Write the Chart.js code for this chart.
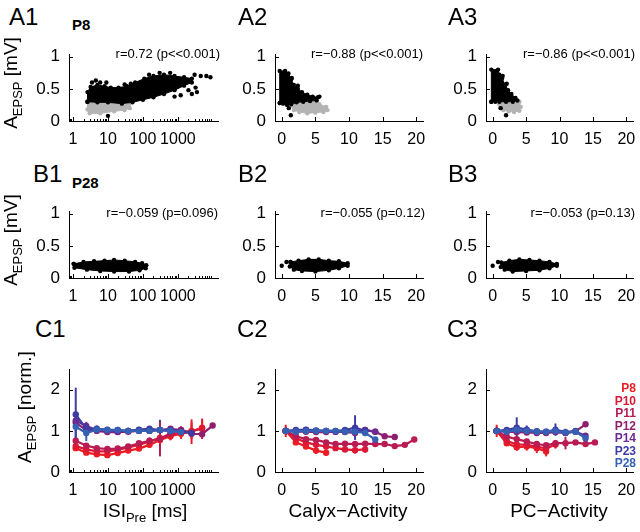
<!DOCTYPE html>
<html>
<head>
<meta charset="utf-8">
<script src="https://cdn.jsdelivr.net/npm/chart.js@4.4.1/dist/chart.umd.min.js"></script>
<style>
body { margin: 0; background: #fff; }
#fig { position: relative; width: 640px; height: 532px; overflow: hidden; font-family: "Liberation Sans", Arial, sans-serif; color: #000; }
#fig canvas { position: absolute; }
.t { position: absolute; white-space: nowrap; }
</style>
</head>
<body>
<div id="fig"></div>
<script>
// ---- data ----
const ages = ['P8', 'P10', 'P11', 'P12', 'P14', 'P23', 'P28'];
const ageColors = ['#ec1c24', '#dc1836', '#b81c52', '#8e1e6e', '#6a2a94', '#3e3ca4', '#3560b4'];

const logTicks = [1, 10, 100, 1000];
const linTicks = [0, 5, 10, 15, 20];

// A row: P8 scatter clouds (outline of dense area + loose points), [x, y]
const a1Black = [[2.6,0.3],[2.6,0.45],[3.2,0.53],[5,0.56],[8,0.54],[12,0.52],[20,0.52],[35,0.54],[60,0.6],[110,0.66],[200,0.7],[400,0.72],[800,0.7],[1500,0.68],[2500,0.66],[2500,0.6],[1500,0.55],[800,0.48],[400,0.42],[200,0.37],[100,0.33],[50,0.29],[25,0.27],[10,0.29],[5,0.29],[2.6,0.3]];
const a1Gray = [[2.6,0.3],[6,0.29],[12,0.28],[25,0.27],[40,0.25],[42,0.2],[30,0.17],[15,0.15],[6,0.12],[3,0.12],[2.6,0.18],[2.6,0.3]];
const a1Loose = [[3.5,0.6],[4.5,0.63],[6,0.6],[9,0.6],[30,0.57],[45,0.58],[150,0.72],[300,0.75],[600,0.75],[3000,0.72],[4500,0.7],[6500,0.7],[8500,0.68],[3200,0.52],[2000,0.48],[1200,0.4],[800,0.38],[3500,0.45],[2500,0.42],[10,0.08],[70,0.5]];

const a2Black = [[-0.3,0.28],[-0.3,0.78],[0.5,0.78],[1.0,0.74],[1.4,0.65],[1.8,0.56],[2.4,0.5],[3,0.45],[3.8,0.41],[4.6,0.38],[5.4,0.37],[5.2,0.32],[4.2,0.31],[3.2,0.3],[2.2,0.29],[1.4,0.26],[0.8,0.25],[0.2,0.27],[-0.3,0.28]];
const a2Gray = [[1.6,0.3],[2.6,0.31],[3.6,0.31],[4.6,0.3],[5.6,0.26],[6.6,0.22],[6.8,0.17],[6.2,0.14],[5.0,0.13],[3.8,0.12],[2.6,0.14],[1.8,0.17],[1.5,0.24],[1.6,0.3]];
const a2Loose = [[1.05,0.2],[1.35,0.09],[2.4,0.55],[5.6,0.38],[1.5,0.67]];

const a3Black = [[-0.2,0.3],[-0.2,0.8],[0.8,0.8],[1.0,0.72],[1.4,0.66],[1.9,0.56],[2.3,0.48],[2.8,0.42],[3.4,0.36],[3.7,0.32],[3.0,0.3],[2.0,0.3],[1.0,0.3],[0.4,0.3],[-0.2,0.3]];
const a3Gray = [[1.0,0.31],[2.2,0.31],[3.3,0.33],[4.0,0.3],[4.2,0.22],[4.0,0.16],[3.2,0.14],[2.4,0.15],[1.6,0.17],[1.1,0.21],[1.0,0.26],[1.0,0.31]];
const a3Loose = [[1.2,0.2],[2.0,0.09],[2.1,0.58],[1.5,0.7]];

// B row: P28 clouds
const b1Black = [[1.05,0.22],[2,0.25],[4,0.26],[8,0.27],[15,0.28],[30,0.27],[60,0.25],[95,0.23],[125,0.2],[120,0.15],[80,0.12],[40,0.1],[15,0.1],[6,0.11],[2.5,0.13],[1.1,0.16],[1.05,0.22]];
const b2Black = [[1.3,0.25],[2.5,0.27],[4,0.29],[5.5,0.29],[7,0.27],[8.5,0.26],[9.8,0.23],[9.8,0.19],[8.5,0.15],[7,0.12],[5,0.1],[3,0.11],[1.8,0.13],[1.2,0.18],[1.3,0.25]];
const b2Loose = [[0,0.19],[0.7,0.25]];
const b3Black = [[1.3,0.24],[2.5,0.27],[4,0.29],[5.5,0.28],[7,0.27],[8.5,0.25],[9.6,0.22],[9.6,0.19],[8.5,0.15],[7,0.12],[5,0.11],[3,0.1],[1.8,0.13],[1.2,0.17],[1.3,0.24]];
const b3Loose = [[0,0.19],[0.8,0.25]];

// C row: normalised means and errors per age
const isiBins = [1.2, 2.4, 4.8, 9.6, 19, 38, 77, 154, 307, 614, 1229, 2458, 4915, 9830];
const activityBins = [0.6, 2.1, 3.6, 5.1, 6.6, 8.0, 9.4, 10.9, 12.4, 13.9, 15.3, 16.8, 18.3, 19.7];

const c1Means = [
  [0.58, 0.47, 0.43, 0.41, 0.46, 0.52, 0.57, 0.66, 0.78, 0.87, 0.93, 0.98, 1.08],
  [0.63, 0.55, 0.5, 0.5, 0.54, 0.6, 0.66, 0.74, 0.83, 0.9, 0.96, 1.0, 1.05],
  [0.76, 0.64, 0.58, 0.56, 0.57, 0.62, 0.7, 0.76, 0.8, 0.95, 1.02, 0.95],
  [1.2, 1.02, 1.0, 0.97, 0.97, 0.98, 1.0, 1.0, 1.02, 1.05, 1.02, 0.93, 0.92, 1.13],
  [1.25, 1.12, 1.02, 1.0, 0.98, 1.0, 1.02, 1.03, 1.02, 1.0, 0.98],
  [1.4, 1.05, 1.05, 1.03, 1.02, 1.0, 1.03, 1.05, 1.02, 1.03, 0.98, 0.95],
  [1.1, 0.95, 1.03, 1.02, 1.02, 1.0, 1.0, 1.0, 1.02, 1.0, 0.97]
];
const c1Errs = [
  [0.04, 0.04, 0.05, 0.04, 0.04, 0.04, 0.05, 0.06, 0.1, 0.1, 0.12, 0.3, 0.18],
  [0.04, 0.04, 0.04, 0.04, 0.04, 0.05, 0.06, 0.08, 0.1, 0.12, 0.15, 0.2, 0.25],
  [0.04, 0.04, 0.04, 0.04, 0.04, 0.05, 0.06, 0.08, 0.42, 0.1, 0.08, 0.1],
  [0.1, 0.06, 0.05, 0.04, 0.04, 0.04, 0.05, 0.05, 0.06, 0.07, 0.08, 0.08, 0.06, 0.03],
  [0.15, 0.1, 0.06, 0.05, 0.05, 0.05, 0.06, 0.06, 0.08, 0.08, 0.1],
  [0.65, 0.1, 0.08, 0.06, 0.05, 0.05, 0.06, 0.07, 0.25, 0.08, 0.1, 0.08],
  [0.35, 0.2, 0.08, 0.06, 0.05, 0.05, 0.05, 0.06, 0.07, 0.08, 0.1]
];

const c2Means = [
  [1.0, 0.72, 0.62, 0.52, 0.47],
  [1.0, 0.82, 0.72, 0.66, 0.62, 0.58, 0.55, 0.53, 0.55],
  [1.0, 0.87, 0.8, 0.78, 0.72, 0.68, 0.69, 0.68, 0.69, 0.68, 0.68, 0.63, 0.66, 0.79],
  [1.0, 0.98, 0.98, 0.97, 0.97, 0.98, 0.97, 0.95, 1.02, 0.98, 0.87, 0.85],
  [1.0, 1.0, 1.02, 1.0, 1.0, 0.98, 1.0, 0.98, 1.02, 0.98],
  [1.0, 1.02, 1.03, 1.01, 1.0, 1.0, 1.02, 1.08, 1.0],
  [1.0, 0.98, 1.0, 1.0, 1.0, 1.0, 0.98, 0.98, 0.95, 0.79]
];
const c2Errs = [
  [0.15, 0.06, 0.06, 0.08, 0.08],
  [0.1, 0.06, 0.06, 0.06, 0.06, 0.07, 0.07, 0.08, 0.08],
  [0.05, 0.05, 0.05, 0.05, 0.05, 0.05, 0.05, 0.05, 0.05, 0.05, 0.04, 0.03, 0.03, 0.03],
  [0.05, 0.05, 0.05, 0.05, 0.05, 0.05, 0.05, 0.05, 0.05, 0.05, 0.04, 0.03],
  [0.05, 0.05, 0.06, 0.05, 0.05, 0.05, 0.05, 0.06, 0.06, 0.05],
  [0.05, 0.06, 0.06, 0.05, 0.05, 0.05, 0.06, 0.3, 0.06],
  [0.04, 0.05, 0.05, 0.05, 0.05, 0.05, 0.05, 0.06, 0.06, 0.04]
];

const c3Means = [
  [1.0, 0.7, 0.6, 0.62, 0.58, 0.5],
  [1.0, 0.76, 0.67, 0.66, 0.62, 0.57, 0.67],
  [1.0, 0.86, 0.8, 0.74, 0.68, 0.65, 0.7, 0.7, 0.72, 0.68, 0.72],
  [1.0, 0.98, 0.97, 0.96, 0.95, 0.95, 0.97, 0.95, 0.99, 1.16],
  [1.0, 1.0, 1.0, 1.0, 0.98, 0.97, 0.98, 0.95, 0.98, 0.88],
  [1.0, 1.02, 1.08, 1.03, 0.99, 0.98, 1.03, 0.97, 1.0],
  [1.0, 0.98, 1.02, 1.0, 0.98, 0.98, 1.0, 0.96, 0.98, 0.82]
];
const c3Errs = [
  [0.15, 0.06, 0.08, 0.1, 0.12, 0.12],
  [0.1, 0.06, 0.06, 0.07, 0.08, 0.1, 0.1],
  [0.05, 0.05, 0.05, 0.05, 0.05, 0.05, 0.06, 0.15, 0.05, 0.04, 0.03],
  [0.05, 0.05, 0.05, 0.05, 0.05, 0.05, 0.05, 0.05, 0.05, 0.03],
  [0.05, 0.05, 0.05, 0.05, 0.05, 0.05, 0.05, 0.06, 0.05, 0.04],
  [0.05, 0.06, 0.25, 0.1, 0.06, 0.06, 0.15, 0.08, 0.06],
  [0.05, 0.05, 0.05, 0.05, 0.05, 0.05, 0.05, 0.05, 0.05, 0.04]
];

// ---- layout ----
Chart.defaults.font.family = '"Liberation Sans", Arial, sans-serif';
Chart.defaults.color = '#000';

const fig = document.getElementById('fig');
const cols = [[69, 218], [275, 423], [486, 633]];
const rows = [[45, 121], [202, 278], [360, 472]];
const YW = 45, XH = 30, PT = 10, PR = 15;

const toXY = arr => arr.map(p => ({ x: p[0], y: p[1] }));

// inward MATLAB-style tick marks
const inTicks = {
  id: 'inTicks',
  afterDraw(chart) {
    const { ctx, chartArea: a, scales: { x, y } } = chart;
    ctx.save();
    ctx.strokeStyle = '#000';
    ctx.lineWidth = 1;
    ctx.beginPath();
    const xt = (v, len) => {
      const px = Math.round(x.getPixelForValue(v)) + 0.5;
      ctx.moveTo(px, a.bottom); ctx.lineTo(px, a.bottom - len);
    };
    x.ticks.forEach(t => xt(t.value, 4));
    if (x.type === 'logarithmic') {
      for (let k = -1; k <= 4; k++) {
        for (let m = 2; m <= 9; m++) {
          const v = m * Math.pow(10, k);
          if (v > x.min && v < x.max) xt(v, 2);
        }
      }
    }
    y.ticks.forEach(t => {
      const py = Math.round(y.getPixelForValue(t.value)) + 0.5;
      ctx.moveTo(a.left, py); ctx.lineTo(a.left + 4, py);
    });
    ctx.stroke();
    ctx.restore();
  }
};

const errorBars = {
  id: 'errorBars',
  beforeDatasetsDraw(chart) {
    const { ctx, scales: { y } } = chart;
    chart.data.datasets.forEach((ds, i) => {
      if (!ds.errors) return;
      const meta = chart.getDatasetMeta(i);
      ctx.save();
      ctx.strokeStyle = ds.borderColor;
      ctx.lineWidth = 2;
      meta.data.forEach((pt, j) => {
        const v = ds.data[j].y, e = ds.errors[j];
        ctx.beginPath();
        ctx.moveTo(pt.x, y.getPixelForValue(v - e));
        ctx.lineTo(pt.x, y.getPixelForValue(v + e));
        ctx.stroke();
      });
      ctx.restore();
    });
  }
};

function makePanel(col, row, logX, yMax, yTicks, datasets) {
  const [l, r] = cols[col];
  const [t, b] = rows[row];
  const cv = document.createElement('canvas');
  cv.width = r - l + YW + PR;
  cv.height = b - t + PT + XH;
  cv.style.left = (l - YW) + 'px';
  cv.style.top = (t - PT) + 'px';
  fig.appendChild(cv);
  const xTicks = logX ? logTicks : linTicks;
  new Chart(cv.getContext('2d'), {
    type: 'scatter',
    data: { datasets },
    options: {
      responsive: false,
      animation: false,
      devicePixelRatio: 1,
      layout: { padding: { left: 0, top: PT, right: PR, bottom: 0 } },
      plugins: { legend: { display: false }, tooltip: { enabled: false } },
      scales: {
        x: {
          type: logX ? 'logarithmic' : 'linear',
          min: logX ? 0.77 : -1,
          max: logX ? 14000 : 21,
          grid: { drawOnChartArea: false, drawTicks: false },
          border: { color: '#000', width: 1 },
          ticks: { font: { size: 16 }, padding: 9, maxRotation: 0, autoSkip: false, callback: v => String(v) },
          afterBuildTicks: a => { a.ticks = xTicks.map(v => ({ value: v })); },
          afterFit: a => { a.height = XH; }
        },
        y: {
          min: 0,
          max: yMax,
          grid: { drawOnChartArea: false, drawTicks: false },
          border: { color: '#000', width: 1 },
          ticks: { font: { size: 17 }, padding: 9, callback: v => String(v) },
          afterBuildTicks: a => { a.ticks = yTicks.map(v => ({ value: v })); },
          afterFit: a => { a.width = YW; }
        }
      }
    },
    plugins: [errorBars, inTicks]
  });
}

function cloud(points, color) {
  return {
    data: toXY(points), showLine: true, fill: 'shape', tension: 0,
    borderColor: color, backgroundColor: color, borderWidth: 1,
    pointRadius: 2.2, pointBackgroundColor: color, pointBorderWidth: 0
  };
}
function loose(points) {
  return { data: toXY(points), showLine: false, pointRadius: 2.2, pointBackgroundColor: '#000', pointBorderWidth: 0 };
}
function ageSeries(bins, means, errs) {
  // first dataset is drawn on top, so blues go first
  return ages.map((a, i) => ({
    label: a,
    data: means[i].map((m, j) => ({ x: bins[j], y: m })),
    errors: errs[i],
    showLine: true, tension: 0,
    borderColor: ageColors[i], backgroundColor: ageColors[i],
    borderWidth: 2.2, pointRadius: 3.2, pointBackgroundColor: ageColors[i], pointBorderWidth: 0
  })).reverse();
}

const GRAY = '#b4b4b4';
makePanel(0, 0, true, 1.04, [0, 0.5, 1], [loose(a1Loose), cloud(a1Black, '#000'), cloud(a1Gray, GRAY)]);
makePanel(1, 0, false, 1.04, [0, 0.5, 1], [loose(a2Loose), cloud(a2Black, '#000'), cloud(a2Gray, GRAY)]);
makePanel(2, 0, false, 1.04, [0, 0.5, 1], [loose(a3Loose), cloud(a3Black, '#000'), cloud(a3Gray, GRAY)]);
makePanel(0, 1, true, 1.04, [0, 0.5, 1], [cloud(b1Black, '#000')]);
makePanel(1, 1, false, 1.04, [0, 0.5, 1], [loose(b2Loose), cloud(b2Black, '#000')]);
makePanel(2, 1, false, 1.04, [0, 0.5, 1], [loose(b3Loose), cloud(b3Black, '#000')]);
makePanel(0, 2, true, 2.5, [0, 1, 2], ageSeries(isiBins, c1Means, c1Errs));
makePanel(1, 2, false, 2.5, [0, 1, 2], ageSeries(activityBins, c2Means, c2Errs));
makePanel(2, 2, false, 2.5, [0, 1, 2], ageSeries(activityBins, c3Means, c3Errs));

// ---- text ----
function text(html, x, base, size, align, extra) {
  const d = document.createElement('div');
  d.className = 't';
  d.innerHTML = html;
  d.style.fontSize = size + 'px';
  d.style.lineHeight = size + 'px';
  d.style.left = x + 'px';
  d.style.top = (base - 0.8465 * size) + 'px';
  if (align === 'right') d.style.transform = 'translateX(-100%)';
  if (align === 'center') d.style.transform = 'translateX(-50%)';
  Object.assign(d.style, extra || {});
  fig.appendChild(d);
}
function vtext(html, cx, cy, size) {
  const d = document.createElement('div');
  d.className = 't';
  d.innerHTML = html;
  d.style.fontSize = size + 'px';
  d.style.lineHeight = size + 'px';
  d.style.left = cx + 'px';
  d.style.top = cy + 'px';
  d.style.transform = 'translate(-50%,-50%) rotate(-90deg)';
  fig.appendChild(d);
}
const sub = s => '<span style="font-size:13px;position:relative;top:5px">' + s + '</span>';

text('A1', 9, 25, 24); text('A2', 238, 25, 24); text('A3', 448, 25, 24);
text('B1', 33, 182, 24); text('B2', 238, 182, 24); text('B3', 448, 182, 24);
text('C1', 35, 337, 24); text('C2', 237, 337, 24); text('C3', 447, 337, 24);
text('P8', 72, 30, 15, 'left', { fontWeight: 'bold' });
text('P28', 72, 188, 15, 'left', { fontWeight: 'bold' });

text('r=0.72 (p&lt;&lt;0.001)', 220, 58, 13, 'right');
text('r=\u22120.88 (p&lt;&lt;0.001)', 423, 58, 13, 'right');
text('r=\u22120.86 (p&lt;&lt;0.001)', 635, 58, 13, 'right');
text('r=\u22120.059 (p=0.096)', 218, 217, 13, 'right');
text('r=\u22120.055 (p=0.12)', 425, 217, 13, 'right');
text('r=\u22120.053 (p=0.13)', 635, 217, 13, 'right');

vtext('A' + sub('EPSP') + ' [mV]', 11, 83, 19);
vtext('A' + sub('EPSP') + ' [mV]', 11, 240, 19);
vtext('A' + sub('EPSP') + ' [norm.]', 25, 407, 19);

text('ISI' + sub('Pre') + ' [ms]', 145, 517, 19, 'center');
text('Calyx\u2212Activity', 348, 517, 19, 'center');
text('PC\u2212Activity', 559, 517, 19, 'center');

ages.forEach((a, i) => text(a, 636, 392.5 + i * 12.5, 12, 'right', { fontWeight: 'bold', color: ageColors[i] }));
</script>
</body>
</html>
